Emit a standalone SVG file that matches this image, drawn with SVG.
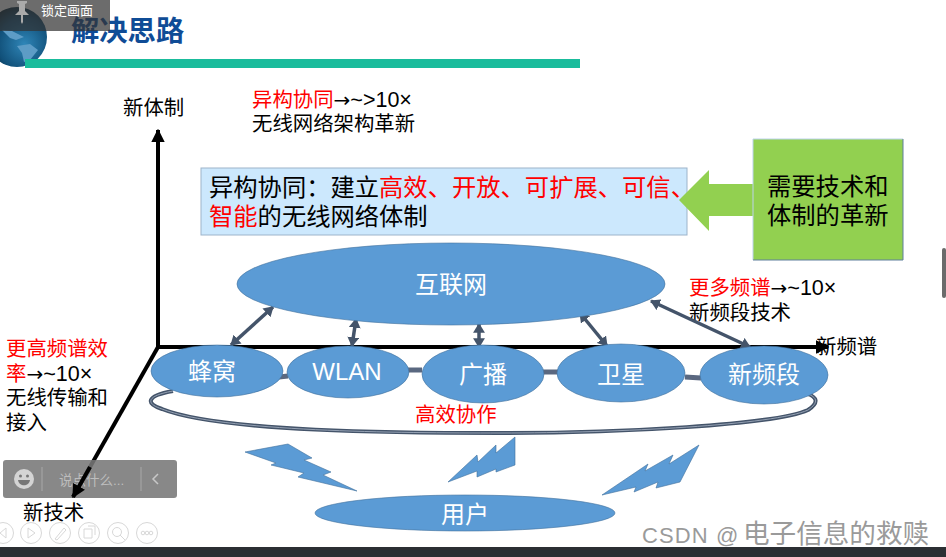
<svg xmlns="http://www.w3.org/2000/svg" width="946" height="557" viewBox="0 0 946 557">
<style>
text{font-family:"Liberation Sans","Noto Sans CJK SC",sans-serif}
.k{font-size:20.400px;fill:#000}
.r{fill:#f00}
.ar{font-family:"DejaVu Sans",sans-serif;font-size:20px}
.l{font-size:21.500px}
.w{font-size:24px;fill:#fff;text-anchor:middle}
.n{fill:#5b9bd5;stroke:#41719c;stroke-width:.6}
.ax{stroke:#000;stroke-width:4;fill:none}
.link{stroke:#44546a;stroke-width:3.500;fill:none;marker-start:url(#d);marker-end:url(#d)}
.bar{stroke:#5a6880;stroke-width:5;fill:none}
.ic{fill:none;stroke:#d8d8d8;stroke-width:1}
.big{font-size:24.300px}
</style>
<defs>
<marker id="d" viewBox="0 0 10 10" preserveAspectRatio="none" refX="9" refY="5" markerWidth="2.800" markerHeight="3.400" orient="auto-start-reverse" markerUnits="strokeWidth"><path d="M0 0L10 5L0 10z" fill="#44546a"/></marker>
<marker id="a" viewBox="0 0 10 10" refX="9" refY="5" markerWidth="3.400" markerHeight="3.600" orient="auto" markerUnits="strokeWidth"><path d="M0 0L10 5L0 10z" fill="#000"/></marker>
<radialGradient id="g" cx=".62" cy=".62" r=".68"><stop offset="0" stop-color="#2f86b8"/><stop offset=".65" stop-color="#115079"/><stop offset="1" stop-color="#05202f"/></radialGradient>
</defs>
<rect width="946" height="557" fill="#fff"/>
<rect x="0" y="547" width="946" height="10" fill="#2b2f33"/>
<rect x="942" y="248" width="4" height="50" rx="2" fill="#6b6b6b"/>
<g id="header">
<circle cx="17" cy="37" r="30" fill="url(#g)"/>
<path d="M2 30L12 31L24 37L16 40L10 38ZM17 46L30 44L38 50L30 60L24 62L22 53Z" fill="#5d9cc6"/>
<rect x="25" y="59" width="555" height="9" fill="#1abc9c"/>
<text x="71" y="41" font-size="28.300" font-weight="700" fill="#0f4c96">解决思路</text>
<rect x="0" y="0" width="110" height="31" fill="#333" fill-opacity=".72"/>
<path d="M17 1H27V3L25 4V11L29 15H15L19 11V4L17 3ZM21 15H23V22L22 24L21 22Z" fill="#aaa"/>
<text x="41" y="15" font-size="13" fill="#fff">锁定画面</text>
</g>
<g id="axes">
<path class="ax" d="M158 347V130" marker-end="url(#a)"/>
<path class="ax" d="M158 347H828" marker-end="url(#a)"/>
<path class="ax" d="M158 347L73 497"/>
</g>
<g id="labels">
<text class="k" x="123" y="115">新体制</text>
<text class="k" x="252" y="107"><tspan class="r">异构协同</tspan><tspan class="ar">→</tspan><tspan class="l">~&gt;10×</tspan></text>
<text class="k" x="252" y="131">无线网络架构革新</text>
<text class="k" x="689" y="295"><tspan class="r">更多频谱</tspan><tspan class="ar">→</tspan><tspan class="l">~10×</tspan></text>
<text class="k" x="689" y="320">新频段技术</text>
<text class="k" x="816" y="354">新频谱</text>
<text class="k r" x="6" y="356">更高频谱效</text>
<text class="k" x="6" y="381"><tspan class="r">率</tspan><tspan class="ar">→</tspan><tspan class="l">~10×</tspan></text>
<text class="k" x="6" y="405">无线传输和</text>
<text class="k" x="6" y="430">接入</text>
<text class="k" x="23" y="520">新技术</text>
<text class="k r" x="415" y="422">高效协作</text>
</g>
<g id="box-heterogeneous">
<rect x="201" y="168" width="486" height="67" fill="#cce8fd" stroke="#9db4ca"/>
<text class="big" x="209" y="196"><tspan>异构协同：建立</tspan><tspan class="r">高效、开放、可扩展、可信、</tspan></text>
<text class="big" x="209" y="225"><tspan class="r">智能</tspan>的无线网络体制</text>
</g>
<g id="box-need">
<path d="M679 200L709 170V184H753V139H903V260H753V216H709V231Z" fill="#92d050"/>
<path d="M753 260V139H903" fill="none" stroke="#bcd3ea" stroke-width="1"/>
<path d="M903 139V260H753" fill="none" stroke="#5f7f9c" stroke-width="1"/>
<text class="big" x="767" y="195">需要技术和</text>
<text class="big" x="767" y="224">体制的革新</text>
</g>
<g id="connectors">
<path class="bar" d="M270 378L288 376M408 370H422M542 372H558M685 377L701 378"/>
<path d="M173 391C145 396 146 404 162 409C220 432 400 433 500 433C620 433 775 425 808 410C820 402 816 397 808 394" fill="none" stroke="#44546a" stroke-width="4"/>
<path d="M173 391C145 396 146 404 162 409C220 432 400 433 500 433C620 433 775 425 808 410C820 402 816 397 808 394" fill="none" stroke="#aab5c6" stroke-width=".8"/>
<path class="link" d="M273 307L231 345"/>
<path class="link" d="M356 319L352 346"/>
<path class="link" d="M479 324V347"/>
<path class="link" d="M580 313L607 346"/>
<path class="link" d="M651 301L750 347"/>
</g>
<g id="node-internet"><ellipse class="n" cx="451" cy="284" rx="214" ry="41"/><text class="w" x="451" y="293">互联网</text></g>
<g id="node-cell"><ellipse class="n" cx="217" cy="371" rx="66" ry="26"/><text class="w" x="212" y="380">蜂窝</text></g>
<g id="node-wlan"><ellipse class="n" cx="348" cy="372" rx="61" ry="26"/><text class="w" x="347" y="380">WLAN</text></g>
<g id="node-broadcast"><ellipse class="n" cx="483" cy="374" rx="61" ry="29"/><text class="w" x="483" y="383">广播</text></g>
<g id="node-satellite"><ellipse class="n" cx="621" cy="373" rx="64" ry="29"/><text class="w" x="621" y="383">卫星</text></g>
<g id="node-newband"><ellipse class="n" cx="764" cy="375" rx="64" ry="29"/><text class="w" x="764" y="383">新频段</text></g>
<g id="node-user"><ellipse class="n" cx="465" cy="513" rx="150" ry="18"/><text class="w" x="465" y="523">用户</text></g>
<g id="bolts">
<path class="n" d="M245 452L288 444L312 458L304 460L331 472L323 475L357 491L298 477L304 473L271 465L276 463Z"/>
<path class="n" d="M448 482L477 455L478 462L496 445L496 453L515 437V465L496 472V469L477 477V471Z"/>
<path class="n" d="M602 495L648 464L645 471L673 455L669 464L699 445L680 482L656 488L658 482L634 492L636 487Z"/>
</g>
<g id="overlay">
<rect x="3" y="460" width="174" height="38" rx="3" fill="#777" fill-opacity=".88"/>
<circle cx="24" cy="479" r="10" fill="#d4d4d4"/>
<circle cx="20.500" cy="476" r="1.500" fill="#777"/><circle cx="27.500" cy="476" r="1.500" fill="#777"/>
<path d="M18 480H30C29 487 19 487 18 480Z" fill="#777"/>
<path d="M42 467V491M141 467V491" stroke="#a8a8a8"/>
<text x="59" y="485" font-size="13.500" fill="#bdbdbd">说点什么...</text>
<path d="M158 474L153 479L158 484" fill="none" stroke="#c8c8c8" stroke-width="1.500"/>
<path class="ax" d="M90 467L73 497" marker-end="url(#a)"/>
<circle class="ic" cx="3" cy="533" r="10.500"/><circle class="ic" cx="31" cy="533" r="10.500"/><circle class="ic" cx="60" cy="533" r="10.500"/><circle class="ic" cx="89" cy="533" r="10.500"/><circle class="ic" cx="118" cy="533" r="10.500"/><circle class="ic" cx="147" cy="533" r="10.500"/>
<path class="ic" d="M6 528L0 533L6 538ZM28 528L35 533L28 538ZM55 539L64 528L66 530L57 540ZM84 529H92V538H84ZM88 526H95V535M120 535L125 540"/>
<circle class="ic" cx="117" cy="532" r="4.500"/>
<circle class="ic" cx="143" cy="533" r="1.800"/><circle class="ic" cx="147" cy="533" r="1.800"/><circle class="ic" cx="151" cy="533" r="1.800"/>
</g>
<text id="watermark" y="543" fill="#9a9a9a"><tspan x="642" font-size="22" letter-spacing="1.100">CSDN @</tspan><tspan x="743" font-size="26.600">电子信息的救赎</tspan></text>
</svg>
